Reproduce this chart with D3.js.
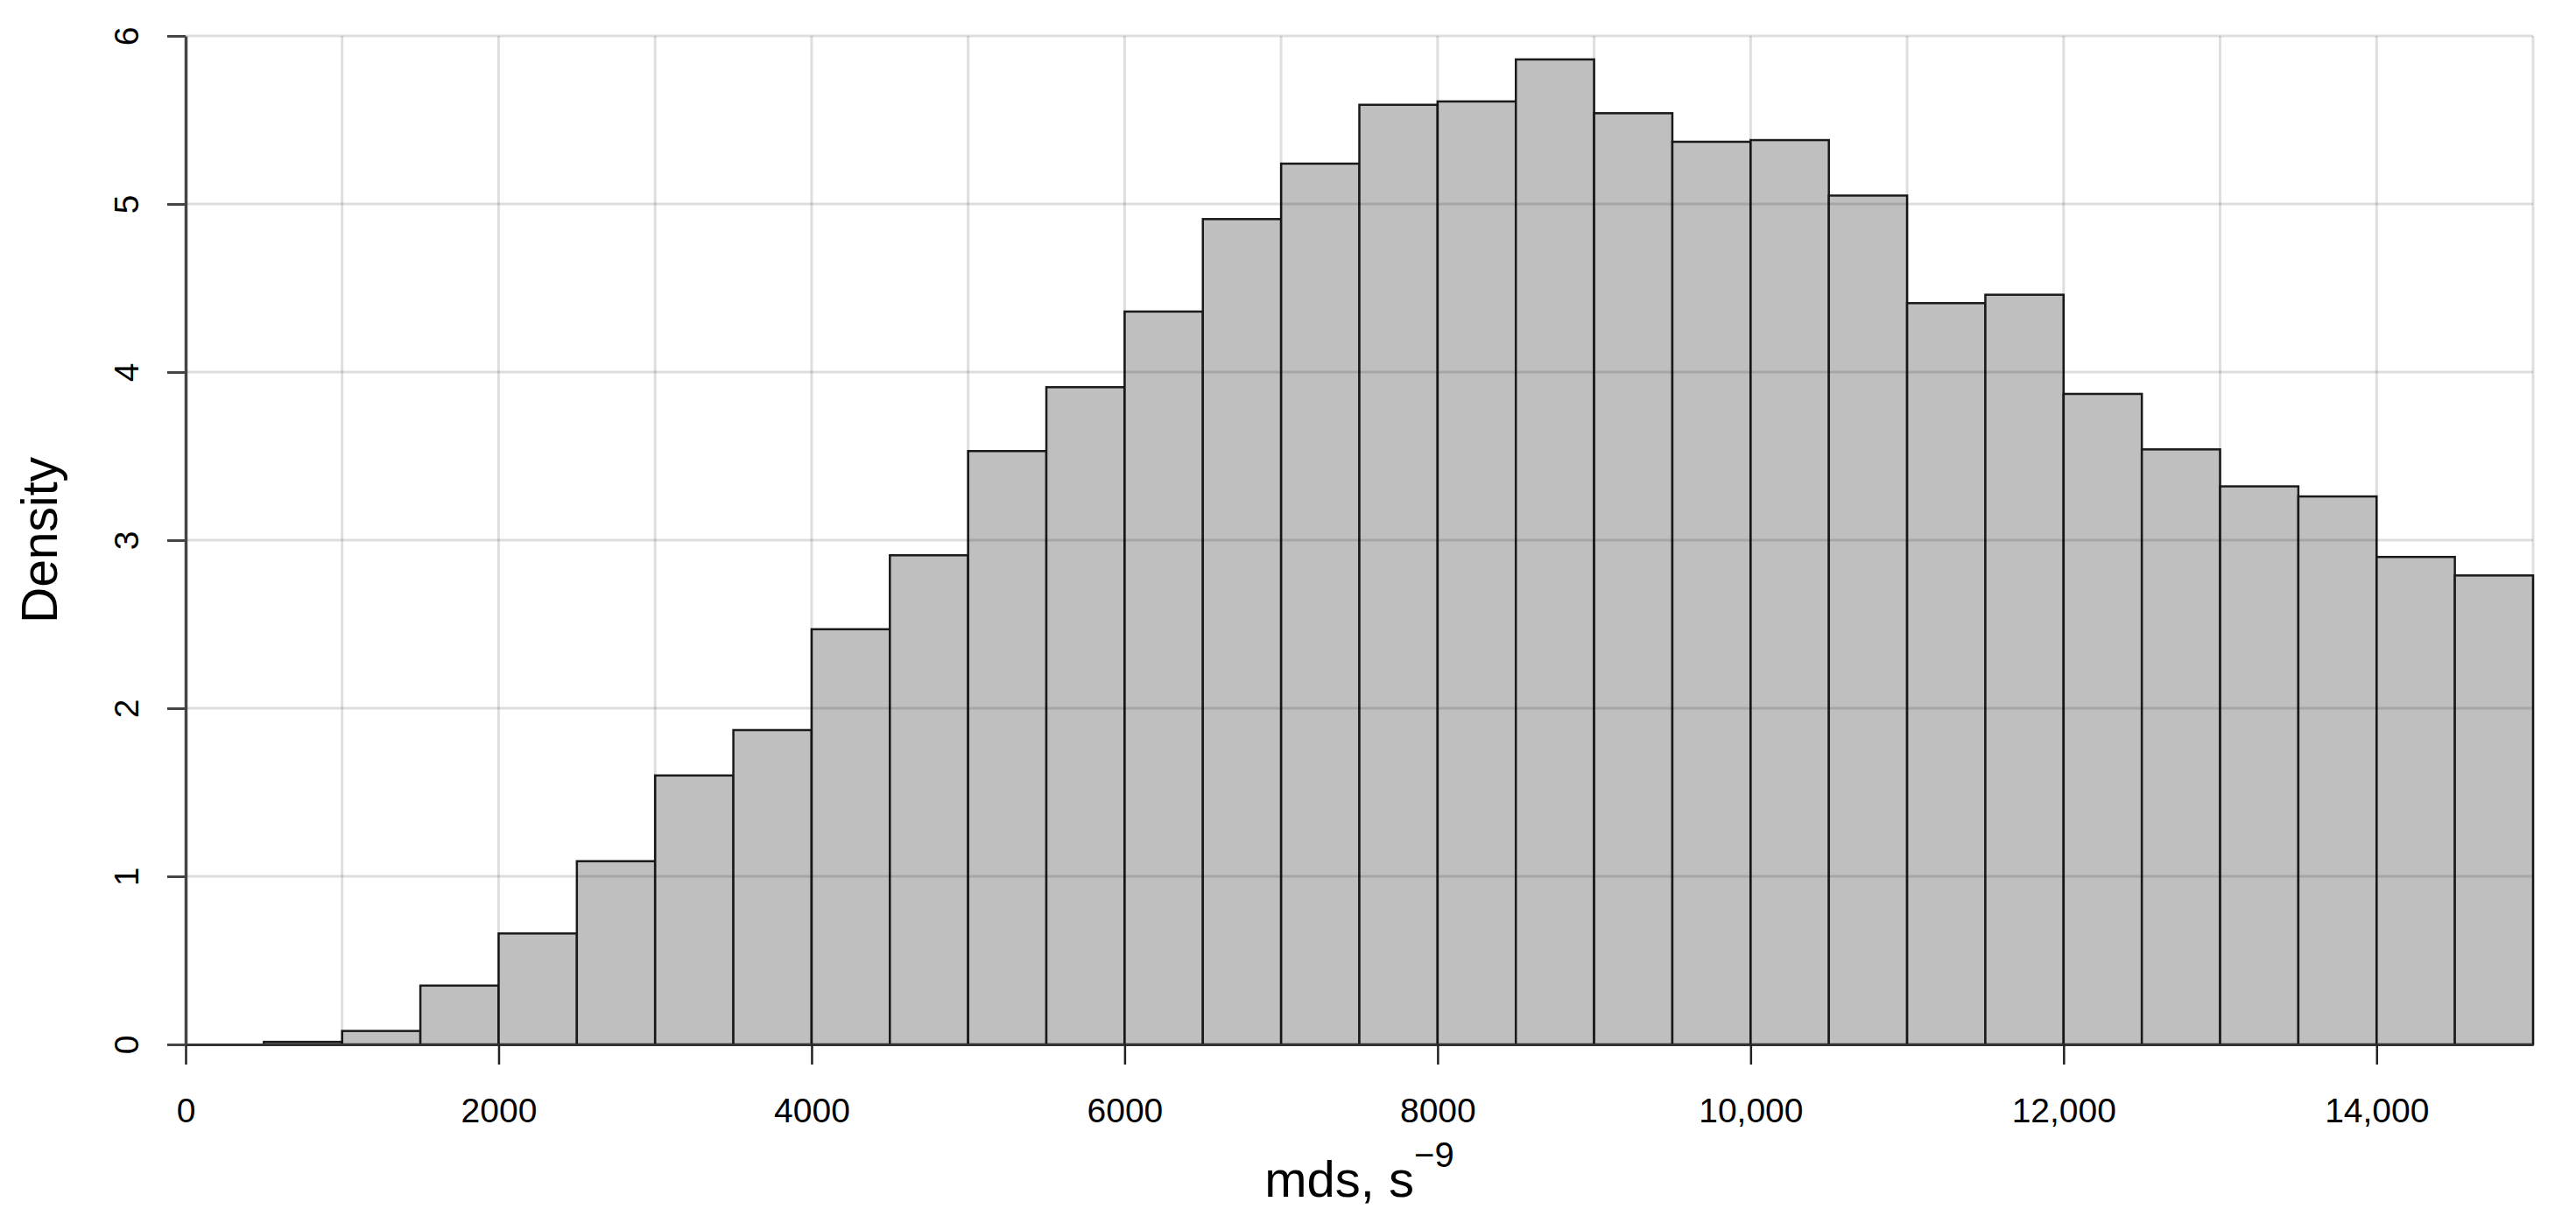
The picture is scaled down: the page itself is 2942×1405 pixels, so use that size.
<!DOCTYPE html>
<html>
<head>
<meta charset="utf-8">
<script src="https://cdn.jsdelivr.net/npm/d3@7"></script>
<style>
  body { margin: 0; background: #fff; }
  svg { display: block; }
  text { font-family: "Liberation Sans", Arial, sans-serif; fill: #000; }
</style>
</head>
<body>
<svg id="chart" width="2942" height="1405"></svg>
<script>
// histogram bins (lower edge, width 500)
const binLow = [500, 1000, 1500, 2000, 2500, 3000, 3500, 4000, 4500, 5000,
  5500, 6000, 6500, 7000, 7500, 8000, 8500, 9000, 9500, 10000,
  10500, 11000, 11500, 12000, 12500, 13000, 13500, 14000, 14500];
const binWidth = 500;
// density
const density = [0.015, 0.08, 0.35, 0.66, 1.09, 1.60, 1.87, 2.47, 2.91, 3.53,
  3.91, 4.36, 4.91, 5.24, 5.59, 5.61, 5.86, 5.54, 5.37, 5.38,
  5.05, 4.41, 4.46, 3.87, 3.54, 3.32, 3.26, 2.90, 2.79];
const xTicks = [0, 2000, 4000, 6000, 8000, 10000, 12000, 14000];
const yTicks = [0, 1, 2, 3, 4, 5, 6];
const xGrid = [1000, 2000, 3000, 4000, 5000, 6000, 7000, 8000, 9000, 10000, 11000, 12000, 13000, 14000, 15000];
const yGrid = [1, 2, 3, 4, 5, 6];

(function () {
  const svg = d3.select('#chart');

  const padLeft = 212, padRight = 2893, padTop = 41, padBottom = 1193;

  const x = d3.scaleLinear().domain([0, 15000]).range([padLeft, padRight]);
  const y = d3.scaleLinear().domain([0, 6]).range([padBottom, padTop]);

  const bins = binLow.map(function (lo, i) {
    return {lo: lo, hi: lo + binWidth, v: density[i]};
  });

  /*
   * bars
   */
  svg.append('g')
    .attr('class', 'bars')
    .selectAll('rect')
    .data(bins)
    .enter()
    .append('rect')
    .attr('x', function (d) { return x(d.lo); })
    .attr('y', function (d) { return y(d.v); })
    .attr('width', function (d) { return x(d.hi) - x(d.lo); })
    .attr('height', function (d) { return y(0) - y(d.v); })
    .attr('fill', '#bfbfbf')
    .attr('stroke', '#1a1a1a')
    .attr('stroke-width', 2.5);

  /*
   * grid (drawn over the bars, like in the original)
   */
  const grid = svg.append('g')
    .attr('class', 'grid')
    .attr('stroke', 'rgba(0,0,0,0.13)')
    .attr('stroke-width', 3);

  grid.selectAll('line.gx')
    .data(xGrid)
    .enter()
    .append('line')
    .attr('class', 'gx')
    .attr('x1', function (d) { return x(d); })
    .attr('x2', function (d) { return x(d); })
    .attr('y1', y(6))
    .attr('y2', y(0));

  grid.selectAll('line.gy')
    .data(yGrid)
    .enter()
    .append('line')
    .attr('class', 'gy')
    .attr('x1', x(0))
    .attr('x2', x(15000))
    .attr('y1', function (d) { return y(d); })
    .attr('y2', function (d) { return y(d); });

  /*
   * axes
   */
  const axisX = d3.axisBottom(x)
    .tickValues(xTicks)
    .tickSize(23)
    .tickSizeOuter(0)
    .tickFormat(function (d) {
      return d >= 10000 ? d3.format(',')(d) : String(d);
    });

  const gx = svg.append('g')
    .attr('class', 'axis-x')
    .attr('transform', 'translate(0,' + padBottom + ')')
    .call(axisX);

  gx.select('.domain').attr('stroke', '#333').attr('stroke-width', 3);
  gx.selectAll('.tick line').attr('stroke', '#222').attr('stroke-width', 2.5);
  gx.selectAll('.tick text')
    .attr('y', 89)
    .attr('dy', null)
    .style('font-size', '39px')
    .attr('fill', '#000');

  const axisY = d3.axisLeft(y)
    .tickValues(yTicks)
    .tickSize(21)
    .tickSizeOuter(0)
    .tickFormat(d3.format('d'));

  const gy = svg.append('g')
    .attr('class', 'axis-y')
    .attr('transform', 'translate(' + padLeft + ',0)')
    .call(axisY);

  gy.select('.domain').attr('stroke', '#444').attr('stroke-width', 3.5);
  gy.selectAll('.tick line').attr('stroke', '#444').attr('stroke-width', 3);
  gy.selectAll('.tick text')
    .attr('x', 0)
    .attr('dy', null)
    .attr('text-anchor', 'middle')
    .attr('transform', 'translate(-54,0) rotate(-90)')
    .style('font-size', '39px')
    .attr('fill', '#000');

  /*
   * titles
   */
  const xTitle = svg.append('text')
    .attr('x', (padLeft + padRight) / 2)
    .attr('y', 1367)
    .attr('text-anchor', 'middle')
    .style('font-size', '58px');
  xTitle.append('tspan').text('mds, s');
  xTitle.append('tspan')
    .attr('dy', -34)
    .style('font-size', '40px')
    .text('\u22129');

  svg.append('text')
    .attr('transform', 'translate(65,' + ((padTop + padBottom) / 2) + ') rotate(-90)')
    .attr('text-anchor', 'middle')
    .style('font-size', '57px')
    .text('Density');
})();
</script>
</body>
</html>
